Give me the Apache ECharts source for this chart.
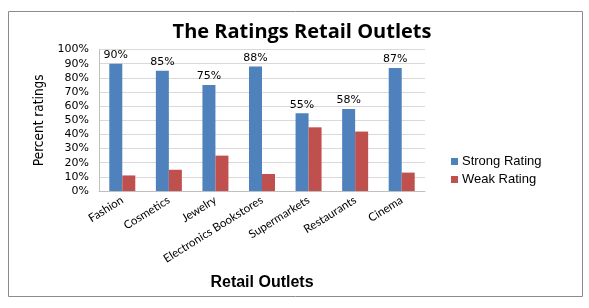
<!DOCTYPE html>
<html><head><meta charset="utf-8">
<script src="https://cdn.jsdelivr.net/npm/echarts@6/dist/echarts.min.js"></script>
<style>html,body{margin:0;padding:0;background:#fff}#c{width:589px;height:308px}</style>
</head><body><div id="c"></div>
<script>
const categories = ["Fashion","Cosmetics","Jewelry","Electronics Bookstores","Supermarkets","Restaurants","Cinema"];
const strongRating = [90,85,75,88,55,58,87];
const weakRating = [11,15,25,12,45,42,13];
const yTicks = [0,10,20,30,40,50,60,70,80,90,100];

const chart = echarts.init(document.getElementById('c'), null, {renderer:'canvas'});
chart.setOption({
  animation:false,
  backgroundColor:'#fff',
  title:{text:'The Ratings Retail Outlets',left:297,top:17,textAlign:'center',
    textStyle:{fontFamily:'Open Sans',fontWeight:'bold',fontSize:20,color:'#000'}},
  graphic:[{type:'rect',shape:{x:8.5,y:11.5,width:574,height:285},style:{fill:'none',stroke:'#8c8c8c',lineWidth:1},z:-1}],
  legend:{orient:'vertical',left:446,top:150,itemWidth:7,itemHeight:7,itemGap:5,icon:'rect',
    textStyle:{fontFamily:'Liberation Sans',fontSize:13,color:'#000',padding:[0,0,0,-1]},
    data:['Strong Rating','Weak Rating']},
  grid:{left:99,top:49.5,width:326,height:141.5,containLabel:false},
  xAxis:{type:'category',data:categories,
    name:'Retail Outlets',nameLocation:'middle',nameGap:84,
    nameTextStyle:{fontFamily:'Liberation Sans',fontWeight:'bold',fontSize:16,color:'#000'},
    axisLine:{lineStyle:{color:'#bfbfbf'}},axisTick:{show:false},
    axisLabel:{rotate:32,margin:8,interval:0,fontFamily:'Lato',fontSize:11.5,color:'#000'}},
  yAxis:{type:'value',min:0,max:100,interval:10,
    name:'Percent ratings',nameLocation:'middle',nameGap:53,nameRotate:90,
    nameTextStyle:{fontFamily:"'Liberation Sans Narrow','DejaVu Sans Condensed',Roboto,sans-serif",fontWeight:500,fontSize:13.5,color:'#000'},
    axisLine:{show:true,lineStyle:{color:'#bfbfbf'}},axisTick:{show:false},
    splitLine:{lineStyle:{color:'#d9d9d9'}},
    axisLabel:{margin:10,fontFamily:'DejaVu Sans',fontSize:11,color:'#000',
      formatter:v=>yTicks.includes(v)?v+'%':''}},
  series:[
    {name:'Strong Rating',type:'bar',data:strongRating,barWidth:13,barGap:'0%',
     itemStyle:{color:'#4F81BD'},
     label:{show:true,position:'top',distance:3,fontFamily:'DejaVu Sans',fontSize:11,color:'#000',formatter:'{c}%'}},
    {name:'Weak Rating',type:'bar',data:weakRating,barWidth:13,barGap:'0%',
     itemStyle:{color:'#C0504D'}}
  ]
});
</script></body></html>
